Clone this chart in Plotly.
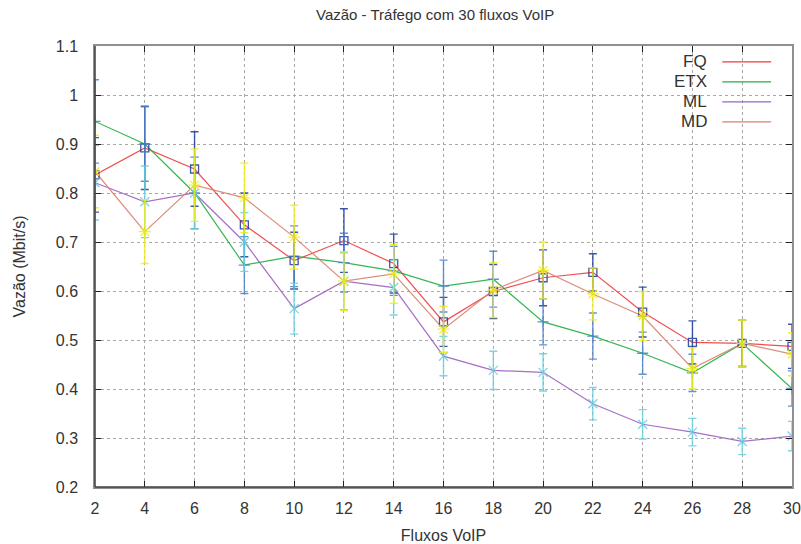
import plotly.graph_objects as go

# ---- data ----
fluxos = [2, 4, 6, 8, 10, 12, 14, 16, 18, 20, 22, 24, 26, 28, 30]
series_names = ["FQ", "ETX", "ML", "MD"]

fq = [0.837, 0.892, 0.849, 0.735, 0.662, 0.703, 0.656, 0.537, 0.599, 0.627, 0.638, 0.557, 0.495, 0.493, 0.487]
fq_err = [0.076, 0.085, 0.076, 0.065, 0.058, 0.065, 0.060, 0.050, 0.055, 0.057, 0.038, 0.051, 0.044, 0.047, 0.045]

etx = [0.946, 0.900, 0.800, 0.653, 0.671, 0.658, 0.641, 0.610, 0.624, 0.537, 0.508, 0.473, 0.433, 0.493, 0.401]
etx_err = [0.085, 0.076, 0.073, 0.058, 0.062, 0.060, 0.050, 0.053, 0.057, 0.047, 0.047, 0.043, 0.038, 0.047, 0.036]

ml = [0.821, 0.782, 0.800, 0.700, 0.564, 0.620, 0.607, 0.467, 0.438, 0.434, 0.370, 0.328, 0.312, 0.293, 0.304]
ml_err = [0.076, 0.073, 0.073, 0.060, 0.052, 0.058, 0.056, 0.040, 0.039, 0.038, 0.033, 0.030, 0.028, 0.027, 0.030]

md = [0.844, 0.721, 0.816, 0.790, 0.710, 0.620, 0.635, 0.522, 0.602, 0.642, 0.594, 0.549, 0.442, 0.493, 0.471]
md_err = [0.074, 0.065, 0.074, 0.071, 0.065, 0.060, 0.060, 0.047, 0.056, 0.058, 0.053, 0.050, 0.042, 0.047, 0.044]

values = [fq, etx, ml, md]
errors = [fq_err, etx_err, ml_err, md_err]

line_colors = ["#f03c3c", "#20b040", "#a060c0", "#d9806f"]
bar_colors = ["#1c3c9c", "#4a80c8", "#66d0e0", "#f2ee10"]
marker_symbols = ["square-open", "cross-thin-open", "x-thin-open", "asterisk-open"]
marker_sizes = [8, 8, 9, 10]

fig = go.Figure()

for name, v, lc in zip(series_names, values, line_colors):
    fig.add_trace(go.Scatter(x=fluxos, y=v, mode="lines", name=name,
                             line=dict(color=lc, width=1.2), opacity=0.9,
                             showlegend=False, hoverinfo="skip"))

for name, v, e, bc, sym, ms in zip(series_names, values, errors, bar_colors,
                                   marker_symbols, marker_sizes):
    fig.add_trace(go.Scatter(x=fluxos, y=v, mode="markers", name=name + " err",
                             marker=dict(symbol=sym, size=ms, color=bc,
                                         line=dict(color=bc, width=1.3)),
                             error_y=dict(type="data", array=e, visible=True,
                                          color=bc, thickness=1.4, width=4),
                             opacity=0.85, showlegend=False))

font_family = "Liberation Sans, Arial, sans-serif"

# custom gnuplot-style legend (text left of line sample)
leg_top = 0.964
leg_step = 0.0454
for i, (name, lc) in enumerate(zip(series_names, line_colors)):
    yy = leg_top - i * leg_step
    fig.add_annotation(xref="paper", yref="paper", x=0.881, y=yy, text=name,
                       showarrow=False, xanchor="right", yanchor="middle",
                       font=dict(family=font_family, size=17, color="#333333"))
    fig.add_shape(type="line", xref="paper", yref="paper", x0=0.900, x1=0.970,
                  y0=yy, y1=yy, line=dict(color=lc, width=1.3))

# left / bottom darker axis lines
fig.add_shape(type="line", xref="paper", yref="paper", x0=0, x1=0, y0=0, y1=1,
              line=dict(color="#404040", width=1.5), layer="above")
fig.add_shape(type="line", xref="paper", yref="paper", x0=0, x1=1, y0=0, y1=0,
              line=dict(color="#404040", width=1.5), layer="above")

fig.update_layout(
    width=801, height=544,
    margin=dict(l=95, r=9, t=46, b=57),
    paper_bgcolor="white", plot_bgcolor="white",
    font=dict(family=font_family, size=16, color="#333333"),
    title=dict(text="Vazão - Tráfego com 30 fluxos VoIP", xref="paper", x=0.488,
               xanchor="center", y=0.972, yanchor="middle",
               font=dict(size=15, color="#333333")),
    showlegend=False,
)

fig.update_xaxes(
    range=[2, 30], tickmode="array", tickvals=fluxos,
    ticktext=[str(v) for v in fluxos], automargin=False,
    showgrid=True, gridcolor="#a8a8a8", griddash="dot", gridwidth=1,
    zeroline=False, showline=True, linecolor="#909090", linewidth=1.5,
    mirror="ticks", ticks="inside", ticklen=6, tickcolor="#202020",
    tickfont=dict(size=16, color="#333333"), ticklabelstandoff=6,
    title=dict(text="Fluxos VoIP", font=dict(size=16, color="#333333"), standoff=14),
)
fig.update_yaxes(
    range=[0.2, 1.1], dtick=0.1, tick0=0.2, automargin=False,
    showgrid=True, gridcolor="#a8a8a8", griddash="dot", gridwidth=1,
    zeroline=False, showline=True, linecolor="#909090", linewidth=1.5,
    mirror="ticks", ticks="inside", ticklen=6, tickcolor="#202020",
    tickfont=dict(size=16, color="#333333"), ticklabelstandoff=12,
    title=dict(text="Vazão (Mbit/s)", font=dict(size=16, color="#333333"), standoff=26),
)

fig.write_html("out.html")
